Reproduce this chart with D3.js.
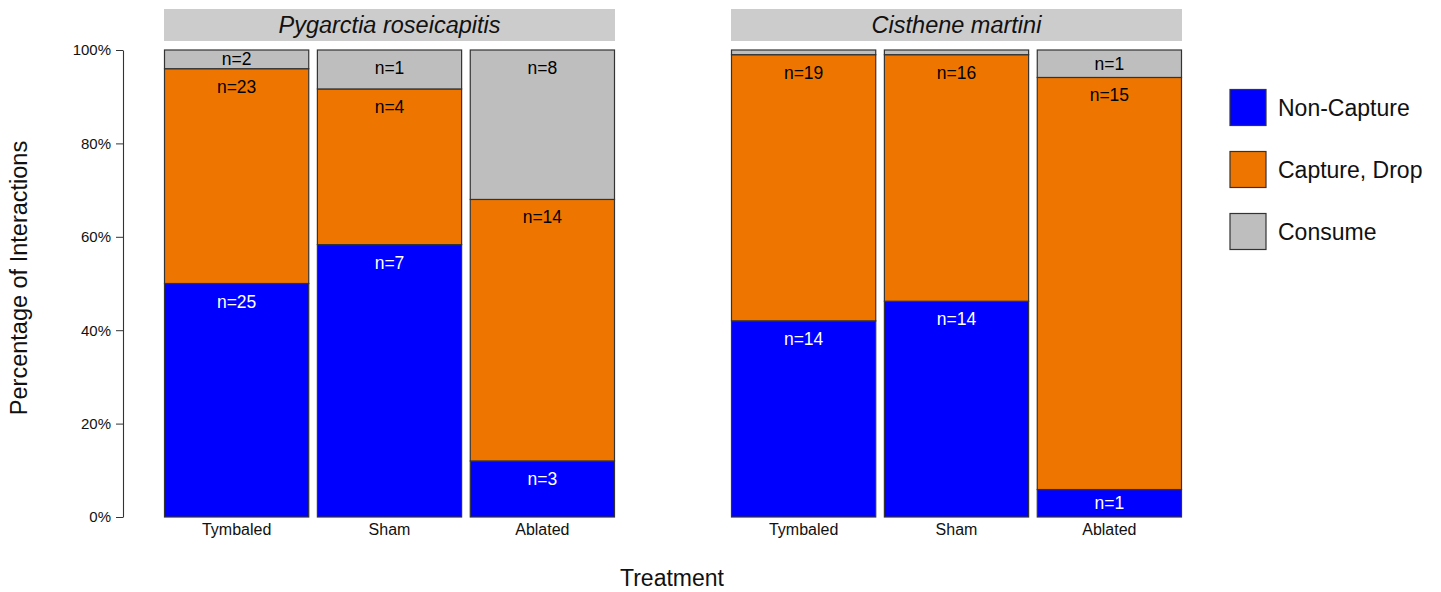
<!DOCTYPE html>
<html>
<head>
<meta charset="utf-8">
<script src="https://cdn.jsdelivr.net/npm/d3@7"></script>
<style>
  html, body { margin: 0; padding: 0; background: #ffffff; }
  svg { display: block; font-family: "Liberation Sans", Arial, sans-serif; }
</style>
</head>
<body>
<svg id="chart" width="1441" height="592"></svg>
<script>
// Species panels and treatments
const species = ["Pygarctia roseicapitis", "Cisthene martini"];
const treatments = ["Tymbaled", "Sham", "Ablated"];
const outcomes = ["Non-Capture", "Capture, Drop", "Consume"];

// Counts per bar (panel order: species 1 treatments, then species 2 treatments)
const nonCaptureN = [25, 7, 3, 14, 14, 1];
const captureDropN = [23, 4, 14, 19, 16, 15];
const consumeN = [2, 1, 8, 0, 0, 1];

// Share of interactions (%) per bar for each outcome
const nonCapturePct = [50, 58.33, 12, 42.0, 46.2, 5.88];
const captureDropPct = [46, 33.33, 56, 57.0, 52.8, 88.24];
const consumePct = [4, 8.34, 32, 1.0, 1.0, 5.88];

// Y axis ticks
const yTicks = [0, 20, 40, 60, 80, 100];

const colors = ["#0000FF", "#EE7600", "#BEBEBE"];
const labelColors = ["#ffffff", "#000000", "#000000"];

const svg = d3.select("#chart");
const y = d3.scaleLinear().domain([0, 100]).range([517, 50]);
const panelRanges = [[164, 615], [731, 1182]];

// Y axis
const yAxis = d3.axisLeft(y).tickValues(yTicks).tickFormat(d => d + "%").tickSize(7).tickSizeOuter(0);
const yg = svg.append("g").attr("transform", "translate(123,0)").call(yAxis);
yg.select(".domain").attr("stroke", "#333").attr("stroke-width", 1.1);
yg.selectAll(".tick line").attr("stroke", "#333");
yg.selectAll(".tick text").attr("font-size", 15).attr("fill", "#111").attr("x", -12)
  .attr("font-family", "Liberation Sans, Arial, sans-serif");

const pcts = [nonCapturePct, captureDropPct, consumePct];
const counts = [nonCaptureN, captureDropN, consumeN];

species.forEach((sp, si) => {
  const x = d3.scaleBand().domain(treatments).range(panelRanges[si]).paddingInner(0.05).paddingOuter(0);
  const g = svg.append("g");

  // Strip header
  g.append("rect")
    .attr("x", panelRanges[si][0]).attr("y", 9)
    .attr("width", panelRanges[si][1] - panelRanges[si][0]).attr("height", 32)
    .attr("fill", "#CCCCCC");
  g.append("text")
    .attr("x", (panelRanges[si][0] + panelRanges[si][1]) / 2).attr("y", 25)
    .attr("text-anchor", "middle").attr("dominant-baseline", "central")
    .attr("font-size", 23.5).attr("font-style", "italic").attr("fill", "#111")
    .text(sp);

  treatments.forEach((t, ti) => {
    const idx = si * 3 + ti;
    let cum = 0;
    const segs = outcomes.map((o, oi) => {
      const s = { oi, lo: cum, hi: cum + pcts[oi][idx], n: counts[oi][idx] };
      cum += pcts[oi][idx];
      return s;
    });
    g.selectAll(null).data(segs).enter().append("rect")
      .attr("x", x(t) + 0.5).attr("width", x.bandwidth() - 1)
      .attr("y", d => y(d.hi)).attr("height", d => y(d.lo) - y(d.hi))
      .attr("fill", d => colors[d.oi])
      .attr("stroke", "#333").attr("stroke-width", 1.2);

    g.selectAll(null).data(segs.filter(d => d.n > 0)).enter().append("text")
      .attr("x", x(t) + x.bandwidth() / 2)
      .attr("y", d => Math.min(y(d.hi) + 18, (y(d.hi) + y(d.lo)) / 2))
      .attr("text-anchor", "middle").attr("dominant-baseline", "central")
      .attr("font-size", 17.5).attr("fill", d => labelColors[d.oi])
      .text(d => "n=" + d.n);

    g.append("text")
      .attr("x", x(t) + x.bandwidth() / 2).attr("y", 529)
      .attr("text-anchor", "middle").attr("dominant-baseline", "central")
      .attr("font-size", 16).attr("fill", "#111")
      .text(t);
  });
});

// Axis titles
svg.append("text")
  .attr("transform", "translate(19,278) rotate(-90)")
  .attr("text-anchor", "middle").attr("dominant-baseline", "central")
  .attr("font-size", 23.5).attr("fill", "#111")
  .text("Percentage of Interactions");
svg.append("text")
  .attr("x", 672).attr("y", 578)
  .attr("text-anchor", "middle").attr("dominant-baseline", "central")
  .attr("font-size", 23).attr("fill", "#111")
  .text("Treatment");

// Legend
const legend = svg.append("g");
const legendY = d3.scalePoint().domain(outcomes).range([107.5, 231.5]);
outcomes.forEach((o, oi) => {
  legend.append("rect")
    .attr("x", 1230).attr("y", legendY(o) - 18).attr("width", 36).attr("height", 36)
    .attr("fill", colors[oi]).attr("stroke", "#333").attr("stroke-width", 1.2);
  legend.append("text")
    .attr("x", 1278).attr("y", legendY(o))
    .attr("dominant-baseline", "central")
    .attr("font-size", 23).attr("fill", "#111")
    .text(o);
});
</script>
</body>
</html>
